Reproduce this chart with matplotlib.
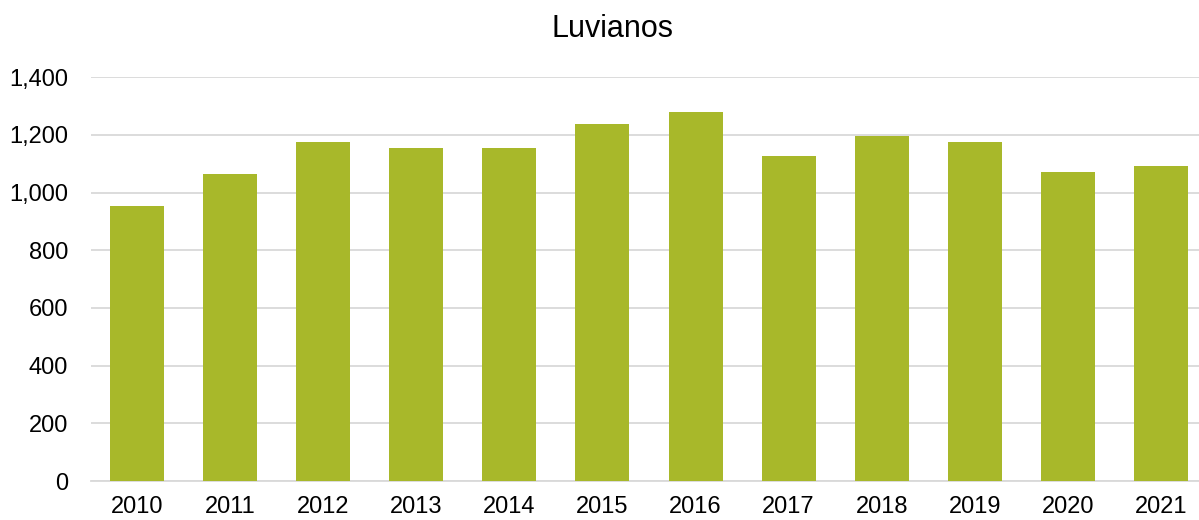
import matplotlib
matplotlib.use("Agg")
import matplotlib.pyplot as plt
from matplotlib.ticker import FuncFormatter

plt.rcParams['font.family'] = ['Liberation Sans', 'DejaVu Sans']

# Data
years = ["2010", "2011", "2012", "2013", "2014", "2015",
         "2016", "2017", "2018", "2019", "2020", "2021"]
values = [955, 1065, 1176, 1155, 1155, 1238, 1280, 1127, 1196, 1176, 1072, 1093]
yticks = [0, 200, 400, 600, 800, 1000, 1200, 1400]

fig = plt.figure(figsize=(11.99, 5.20), dpi=100)
ax = fig.add_axes([0.0755, 0.075, 0.9316, 0.7763])

ax.bar(range(len(years)), values, width=0.58, color="#A8B82A", zorder=3)

ax.set_xlim(-0.5, len(years) - 0.5)
ax.set_ylim(0, 1400)
ax.set_yticks(yticks)
ax.yaxis.set_major_formatter(FuncFormatter(lambda v, p: f"{int(v):,}"))
ax.set_xticks(range(len(years)))
ax.set_xticklabels(years)

ax.grid(axis="y", color="#d9d9d9", linewidth=1.3, zorder=0)
for side in ["top", "right", "left"]:
    ax.spines[side].set_visible(False)
ax.spines["bottom"].set_color("#d9d9d9")
ax.spines["bottom"].set_linewidth(1.3)
ax.tick_params(axis="both", length=0, labelsize=17, colors="black")
ax.tick_params(axis="y", pad=16)
ax.tick_params(axis="x", pad=11)

fig.text(0.511, 0.945, "Luvianos", ha="center", va="center", fontsize=22)

fig.savefig("out.png", dpi=100)
